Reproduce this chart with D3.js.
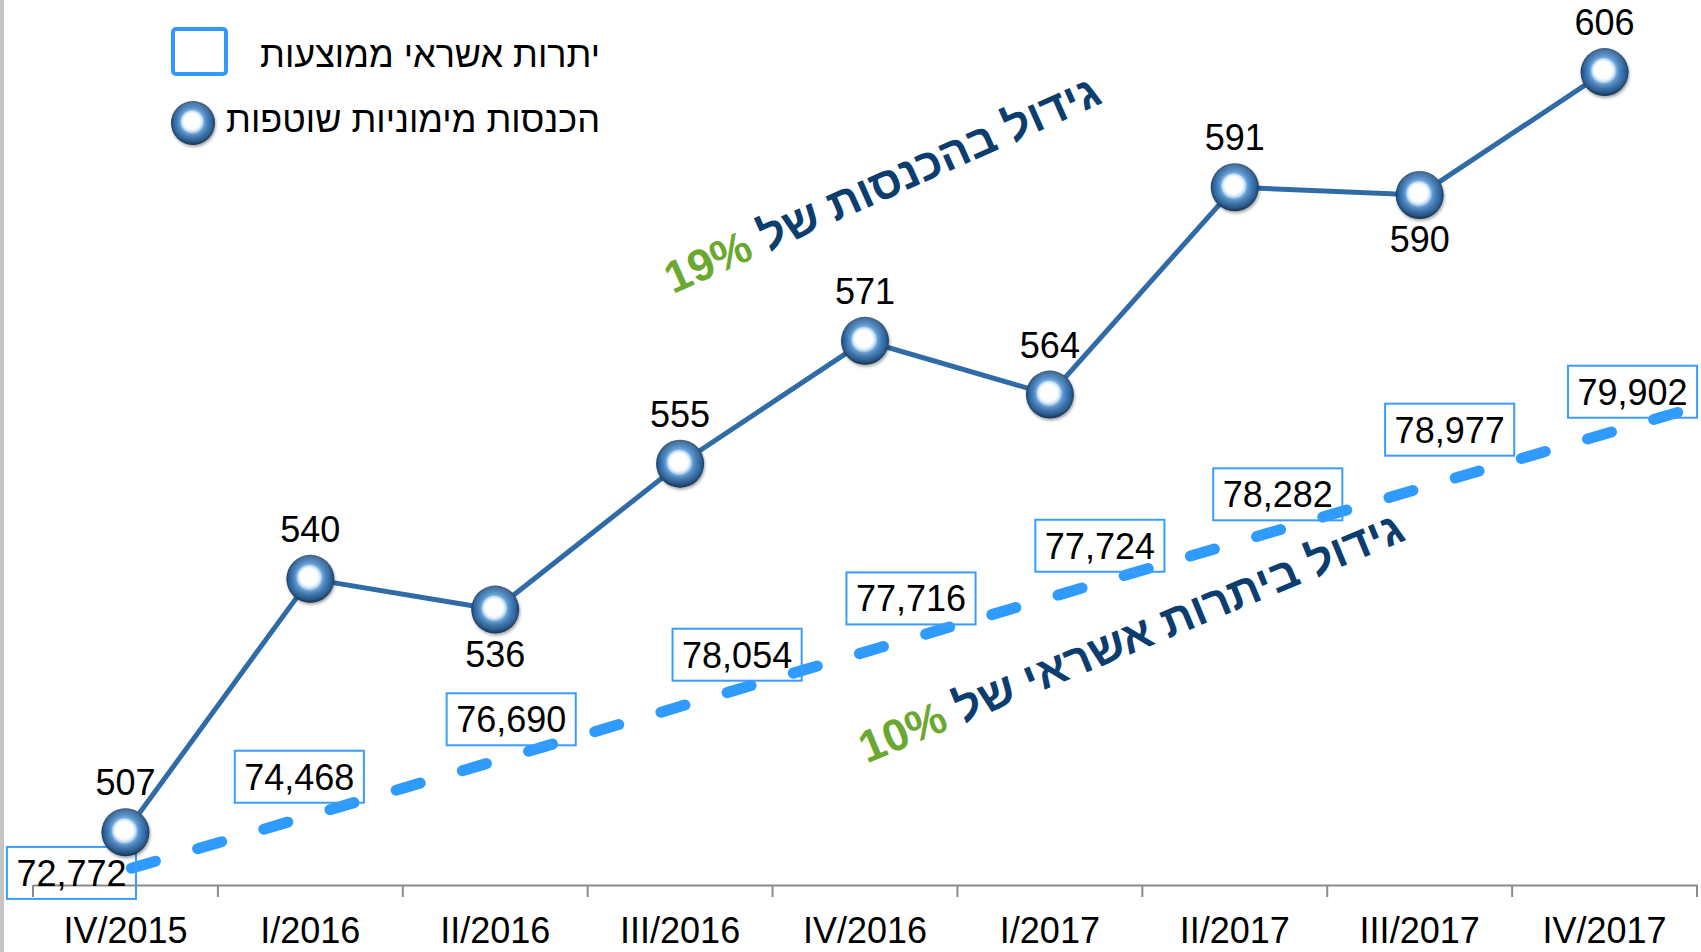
<!DOCTYPE html>
<html>
<head>
<meta charset="utf-8">
<script src="https://cdnjs.cloudflare.com/ajax/libs/d3/7.8.5/d3.min.js"></script>
<style>
body { margin: 0; background: #ffffff; }
svg { display: block; font-family: "Liberation Sans", Arial, sans-serif; }
</style>
</head>
<body>
<div class="LineChart"></div>
<script>
// quarters on the x axis
let quarters = ["IV/2015", "I/2016", "II/2016", "III/2016", "IV/2016", "I/2017", "II/2017", "III/2017", "IV/2017"];
// current financing income (line with round markers)
let financeIncome = [507, 540, 536, 555, 571, 564, 591, 590, 606];
// average credit balances (dashed trend with boxed labels)
let avgCredit = [72772, 74468, 76690, 78054, 77716, 77724, 78282, 78977, 79902];
// where each income label sits
let incomeLabelSide = ["above", "above", "below", "above", "above", "above", "above", "below", "above"];
let legendNames = ["יתרות אשראי ממוצעות", "הכנסות מימוניות שוטפות"];
let growthText = ["גידול בהכנסות של", "גידול ביתרות אשראי של"];
let growthPct = ["19%", "10%"];

class IncomeChart
{
    constructor(cats, income, credit)
    {
        this.cats = cats;
        this.income = income;
        this.credit = credit;
        this.width = 1701;
        this.height = 952;
    }

    draw()
    {
        let that = this;
        let svg = d3.select(".LineChart")
                    .append("svg")
                    .attr("width", this.width)
                    .attr("height", this.height);

        let defs = svg.append("defs");
        let grad = defs.append("radialGradient")
                       .attr("id", "ball")
                       .attr("cx", "50%").attr("cy", "50%").attr("r", "50%")
                       .attr("fx", "46%").attr("fy", "44%");
        [["0%", "#ffffff"], ["36%", "#ffffff"], ["47%", "#c6e2fb"], ["57%", "#5d9ad3"],
         ["72%", "#3b78b5"], ["88%", "#285f97"], ["100%", "#173a60"]]
            .forEach(s => grad.append("stop").attr("offset", s[0]).attr("stop-color", s[1]));
        let shade = defs.append("linearGradient")
                        .attr("id", "ballShade")
                        .attr("x1", 0).attr("y1", 0).attr("x2", 0).attr("y2", 1);
        shade.append("stop").attr("offset", "0%").attr("stop-color", "#ffffff").attr("stop-opacity", 0.18);
        shade.append("stop").attr("offset", "50%").attr("stop-color", "#ffffff").attr("stop-opacity", 0);
        shade.append("stop").attr("offset", "100%").attr("stop-color", "#000000").attr("stop-opacity", 0.2);
        defs.append("filter").attr("id", "shadow")
            .attr("x", "-30%").attr("y", "-30%").attr("width", "160%").attr("height", "160%")
            .append("feDropShadow")
            .attr("dx", 1).attr("dy", 2).attr("stdDeviation", 1.5)
            .attr("flood-color", "#000").attr("flood-opacity", 0.35);

        // grey strip on the left edge
        svg.append("rect")
           .attr("x", 0).attr("y", 0)
           .attr("width", 4).attr("height", this.height)
           .attr("fill", "#c4c4c4");

        let xScale = d3.scaleBand()
                       .domain(this.cats)
                       .range([33, 1697]);
        let cx = d => xScale(d) + xScale.bandwidth() / 2;

        let yScale = d3.scaleLinear()
                       .domain([500, 615])
                       .range([886, 3]);

        let n = this.credit.length;
        let creditScale = d3.scaleLinear()
                            .domain([this.credit[0], this.credit[n - 1]])
                            .range([870, 434]);

        // x axis: labels centred in bands, ticks on band edges
        let xAxis = d3.axisBottom(xScale)
                      .tickSize(0)
                      .tickSizeOuter(0)
                      .tickPadding(32);
        let axisG = svg.append("g")
                       .attr("transform", "translate(0,885)")
                       .call(xAxis);
        axisG.select(".domain").attr("stroke", "#8c8c8c").attr("stroke-width", 2);
        axisG.selectAll("text")
             .style("font-size", "36px")
             .style("font-family", "\"Liberation Sans\", Arial, sans-serif")
             .attr("fill", "#000");
        axisG.selectAll(".edgeTick")
             .data(d3.range(n + 1))
             .enter()
             .append("line")
             .attr("class", "edgeTick")
             .attr("x1", i => xScale.range()[0] + i * xScale.step())
             .attr("x2", i => xScale.range()[0] + i * xScale.step())
             .attr("y1", 0).attr("y2", 12)
             .attr("stroke", "#8c8c8c").attr("stroke-width", 2);

        // dashed credit trend
        let x0 = cx(this.cats[0]), x1 = cx(this.cats[n - 1]);
        let trendY = d3.scaleLinear()
                       .domain([x0, x1])
                       .range([creditScale(this.credit[0]), creditScale(this.credit[n - 1])]);
        let trendEnd = x1 + xScale.bandwidth() * 0.41;
        svg.append("path")
           .datum([x0 + 6, trendEnd])
           .attr("d", d3.line().x(d => d).y(d => trendY(d)))
           .attr("fill", "none")
           .attr("stroke", "#2f9bff")
           .attr("stroke-width", 11)
           .attr("stroke-linecap", "round")
           .attr("stroke-dasharray", "25 44");

        // income line
        let line = d3.line()
                     .x((d, i) => cx(that.cats[i]))
                     .y(d => yScale(d));
        svg.append("path")
           .datum(this.income)
           .attr("d", line)
           .attr("fill", "none")
           .attr("stroke", "#2f6ba6")
           .attr("stroke-width", 5);

        // credit labels in boxes, nudged along the trend like the original
        let nudge = [[-54, -13], [-11, -42], [16, -37], [57, -35], [46, -40], [50, -37], [43, -36], [30, -50], [28, -34]];
        let boxes = svg.selectAll(".creditLabel")
                       .data(this.credit)
                       .enter()
                       .append("g")
                       .attr("class", "creditLabel")
                       .attr("transform", function(d, i) {
                           let bx = cx(that.cats[i]) + nudge[i][0];
                           return "translate(" + bx + "," + (trendY(bx) + nudge[i][1]) + ")";
                       });
        boxes.append("text")
             .attr("text-anchor", "middle")
             .attr("y", 13)
             .style("font-size", "36px")
             .attr("fill", "#000")
             .text(d => d3.format(",")(d));
        boxes.insert("rect", "text")
             .each(function() {
                 let w = this.parentNode.querySelector("text").getComputedTextLength() + 19;
                 d3.select(this).attr("x", -w / 2).attr("width", w);
             })
             .attr("y", -26).attr("height", 52)
             .attr("fill", "none")
             .attr("stroke", "#3a9cff")
             .attr("stroke-width", 2);

        // markers
        let markers = svg.selectAll(".ball")
                         .data(this.income)
                         .enter()
                         .append("g")
                         .attr("class", "ball")
                         .attr("transform", (d, i) => "translate(" + cx(that.cats[i]) + "," + yScale(d) + ")");
        this.ball(markers, 24);

        // income labels
        svg.selectAll(".incomeLabel")
           .data(this.income)
           .enter()
           .append("text")
           .attr("class", "incomeLabel")
           .attr("x", (d, i) => cx(that.cats[i]))
           .attr("y", (d, i) => incomeLabelSide[i] == "above" ? yScale(d) - 37 : yScale(d) + 57)
           .attr("text-anchor", "middle")
           .style("font-size", "36px")
           .attr("fill", "#000")
           .text(d => d);

        // legend
        svg.append("rect")
           .attr("x", 173).attr("y", 29)
           .attr("width", 53).attr("height", 45)
           .attr("rx", 3)
           .attr("fill", "none")
           .attr("stroke", "#3399ff")
           .attr("stroke-width", 4);
        this.ball(svg.append("g").attr("transform", "translate(193,123)"), 22);
        svg.selectAll(".legendText")
           .data(legendNames)
           .enter()
           .append("text")
           .attr("class", "legendText")
           .attr("x", 600)
           .attr("y", (d, i) => 67 + i * 65)
           .attr("text-anchor", "end")
           .style("font-size", "36px")
           .attr("fill", "#000")
           .text(d => d);

        // rotated growth notes
        let notePos = [[882, 184, -24], [1131, 637, -22.5]];
        notePos.forEach(function(p, i) {
            let g = svg.append("g")
                       .attr("transform", "translate(" + p[0] + "," + p[1] + ") rotate(" + p[2] + ")");
            let pct = g.append("text")
                       .attr("dy", "0.35em")
                       .style("font-size", "45px")
                       .style("font-weight", "bold")
                       .attr("fill", "#6aa82f")
                       .text(growthPct[i]);
            let heb = g.append("text")
                       .attr("dy", "0.35em")
                       .style("font-size", "45px")
                       .style("font-weight", "bold")
                       .attr("fill", "#0b3d6e")
                       .text(growthText[i]);
            let pw = pct.node().getComputedTextLength();
            let hw = heb.node().getComputedTextLength();
            let gap = 13;
            let total = pw + gap + hw;
            pct.attr("x", -total / 2);
            heb.attr("x", -total / 2 + pw + gap);
        });
    }

    ball(sel, r)
    {
        sel.append("circle")
           .attr("r", r)
           .attr("fill", "url(#ball)")
           .attr("filter", "url(#shadow)");
        sel.append("circle")
           .attr("r", r)
           .attr("fill", "url(#ballShade)");
    }
}

let chart = new IncomeChart(quarters, financeIncome, avgCredit);
chart.draw();
</script>
</body>
</html>
